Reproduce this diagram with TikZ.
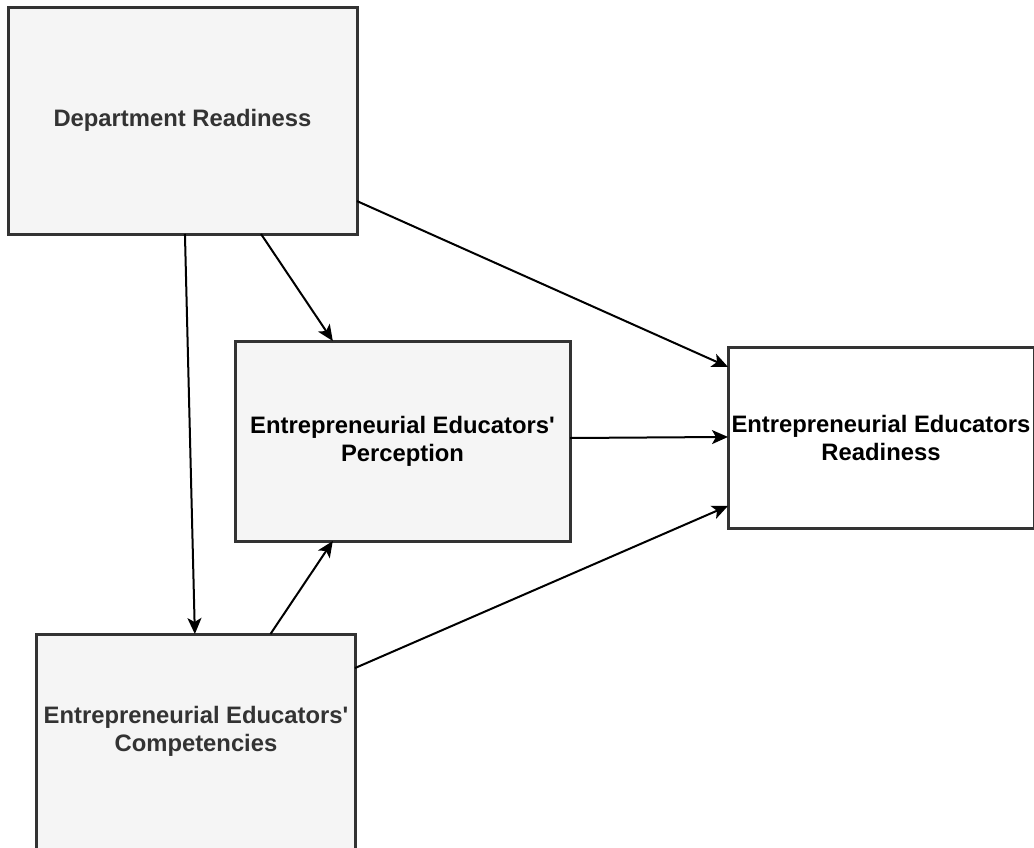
\documentclass[tikz,border=0pt]{standalone}
\usepackage{fontspec}
\setmainfont{Liberation Sans}[Ligatures=TeXOff]
\usetikzlibrary{arrows.meta,calc}
\definecolor{boxline}{HTML}{333333}
\definecolor{boxfill}{HTML}{F5F5F5}
\definecolor{softtext}{HTML}{333333}
\begin{document}
\begin{tikzpicture}[x=1pt,y=-1pt,
  block/.style={draw=boxline,line width=3pt,fill=boxfill,inner sep=0pt,outer sep=0pt,
    anchor=north west,align=center,font=\bfseries\fontsize{23.8}{28}\selectfont},
  link/.style={line width=2pt,-{Stealth[length=16pt,width=14pt,inset=4pt]}}]
\useasboundingbox (0,0) rectangle (1034,847);
\fill[white] (0,0) rectangle (1034,847);

% boxes
\node[block,minimum width=349pt,minimum height=227pt,text=softtext] (dr) at (8,7) {Department Readiness};
\node[block,minimum width=335pt,minimum height=200pt] (perc) at (235,341) {Entrepreneurial Educators'\\Perception};
\node[block,fill=white,minimum width=306pt,minimum height=181pt] (ready) at (728,347) {Entrepreneurial Educators\\Readiness};
\node[block,minimum width=319pt,minimum height=230pt] (comp) at (36,634) {};
\node[font=\bfseries\fontsize{23.8}{28}\selectfont,align=center,text=softtext,inner sep=0pt] (complabel)
  at (196,731) {Entrepreneurial Educators'\\Competencies};

% connectors
\draw[link] ($(dr.south west)!0.507!(dr.south east)$) -- ($(comp.north west)!0.498!(comp.north east)$);
\draw[link] ($(dr.south west)!0.725!(dr.south east)$) -- ($(perc.north west)!0.292!(perc.north east)$);
\draw[link] ($(dr.north east)!0.855!(dr.south east)$) -- ($(ready.north west)!0.11!(ready.south west)$);
\draw[link] ($(perc.north east)!0.485!(perc.south east)$) -- ($(ready.north west)!0.497!(ready.south west)$);
\draw[link] ($(comp.north west)!0.735!(comp.north east)$) -- ($(perc.south west)!0.292!(perc.south east)$);
\draw[link] ($(comp.north east)!0.148!(comp.south east)$) -- ($(ready.north west)!0.878!(ready.south west)$);
\end{tikzpicture}
\end{document}
